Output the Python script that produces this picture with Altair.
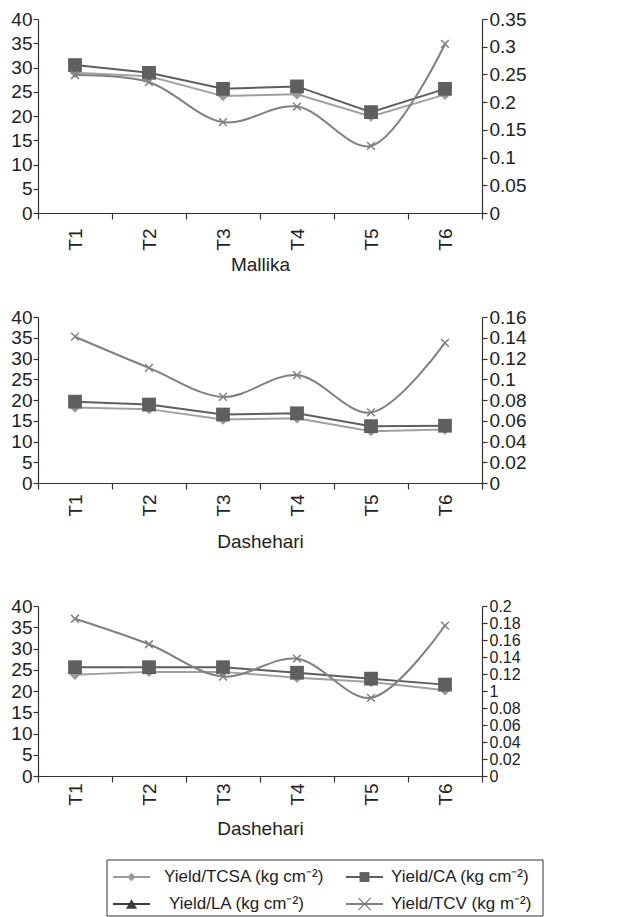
import altair as alt
import pandas as pd

FONT = "Liberation Sans, Arial, sans-serif"

cats = ["T1", "T2", "T3", "T4", "T5", "T6"]

# Panel 1 - Mallika
mallika_tcsa = [28.9, 28.2, 24.1, 24.5, 19.9, 24.4]
mallika_ca = [30.5, 28.9, 25.6, 26.1, 20.8, 25.6]
mallika_tcv = [0.249, 0.236, 0.164, 0.192, 0.121, 0.305]

# Panel 2 - Dashehari
dash1_tcsa = [18.2, 17.8, 15.3, 15.6, 12.5, 12.9]
dash1_ca = [19.6, 18.9, 16.5, 16.8, 13.7, 13.8]
dash1_tcv = [0.141, 0.111, 0.083, 0.104, 0.068, 0.135]

# Panel 3 - Dashehari
dash2_tcsa = [23.8, 24.5, 24.5, 23.1, 22.1, 20.2]
dash2_ca = [25.6, 25.6, 25.6, 24.3, 22.9, 21.5]
dash2_tcv = [0.185, 0.155, 0.117, 0.138, 0.092, 0.177]

legend_labels = ["Yield/TCSA (kg cm⁻²)", "Yield/CA (kg cm⁻²)",
                 "Yield/LA (kg cm⁻²)", "Yield/TCV (kg m⁻²)"]

C_TCSA = "#a0a0a0"
C_CA = "#5e5e5e"
C_LA = "#3c3c3c"
C_TCV = "#808080"
XPATH = "M-1,-1L1,1M-1,1L1,-1"
W = 444


def panel(tcsa, ca, tcv, rmax, rstep, title, h, label_pad, title_pad, rfs=19, right_expr=None):
    df = pd.DataFrame({"cat": cats, "tcsa": tcsa, "ca": ca, "tcv": tcv})
    xaxis = alt.Axis(title=title, labelAngle=270, tickBand="extent", tickSize=6,
                     labelPadding=label_pad, titlePadding=title_pad, grid=False)
    x = alt.X("cat:N", sort=cats, scale=alt.Scale(paddingInner=0, paddingOuter=0), axis=xaxis)
    yl_scale = alt.Scale(domain=[0, 40])
    yl_axis = alt.Axis(values=list(range(0, 41, 5)), title=None, grid=False, orient="left",
                       tickSize=5, labelPadding=1, labelOverlap=False)
    base = alt.Chart(df)
    tcsa_line = base.mark_line(color=C_TCSA, strokeWidth=2).encode(
        x=x, y=alt.Y("tcsa:Q", scale=yl_scale, axis=yl_axis))
    tcsa_pt = base.mark_point(shape="diamond", filled=True, color="#9a9a9a", size=110, opacity=1).encode(
        x=x, y=alt.Y("tcsa:Q", scale=yl_scale, axis=yl_axis))
    ca_line = base.mark_line(color=C_CA, strokeWidth=2).encode(
        x=x, y=alt.Y("ca:Q", scale=yl_scale, axis=yl_axis))
    ca_pt = base.mark_point(shape="square", filled=True, color="#5f5f5f", size=190, opacity=1).encode(
        x=x, y=alt.Y("ca:Q", scale=yl_scale, axis=yl_axis))
    left = alt.layer(tcsa_line, tcsa_pt, ca_line, ca_pt)

    n = int(round(rmax / rstep))
    rvals = [round(i * rstep, 4) for i in range(n + 1)]
    rkw = dict(values=rvals, orient="right", title=None, grid=False, tickSize=5, labelPadding=2,
               labelOverlap=False, labelFlush=False, labelFontSize=rfs)
    if right_expr:
        rkw["labelExpr"] = right_expr
    else:
        rkw["format"] = ".2~f"
    r_axis = alt.Axis(**rkw)
    r_scale = alt.Scale(domain=[0, rmax])
    tcv_line = base.mark_line(color=C_TCV, strokeWidth=2, interpolate="catmull-rom").encode(
        x=x, y=alt.Y("tcv:Q", scale=r_scale, axis=r_axis))
    tcv_pt = base.mark_point(shape=XPATH, filled=False, color=C_TCV, size=60, strokeWidth=1.5, opacity=1).encode(
        x=x, y=alt.Y("tcv:Q", scale=r_scale, axis=r_axis))
    right = alt.layer(tcv_line, tcv_pt)
    return alt.layer(left, right).resolve_scale(y="independent").properties(width=W, height=h)


p1 = panel(mallika_tcsa, mallika_ca, mallika_tcv, 0.35, 0.05, "Mallika", 194, 9, 5)
p2 = panel(dash1_tcsa, dash1_ca, dash1_tcv, 0.16, 0.02, "Dashehari", 166, 5, 16)
p3 = panel(dash2_tcsa, dash2_ca, dash2_tcv, 0.2, 0.02, "Dashehari", 170, 1, 14, rfs=16,
           right_expr="abs(datum.value - 0.1) < 1e-9 ? '1' : format(datum.value, '.2~f')")

# Legend
LH = 56
leg_df = pd.DataFrame({
    "label": legend_labels,
    "col": [0, 1, 0, 1],
    "row": [0, 0, 1, 1],
})
shape_scale = alt.Scale(domain=legend_labels, range=["diamond", "square", "triangle-up", XPATH])
color_scale = alt.Scale(domain=legend_labels, range=["#9a9a9a", "#5f5f5f", C_LA, C_TCV])
size_scale = alt.Scale(domain=legend_labels, range=[70, 150, 110, 90])
lx = alt.Scale(domain=[0, W], range=[0, W])
ly = alt.Scale(domain=[0, LH], range=[0, LH])
leg_base = alt.Chart(leg_df).transform_calculate(
    x0="75 + datum.col * 233",
    x1="112 + datum.col * 233",
    xm="93.5 + datum.col * 233",
    xt="126 + datum.col * 227 + (datum.col == 0 && datum.row == 1 ? 5 : 0)",
    yy="17 + datum.row * 27",
)
leg_lines = leg_base.mark_rule(strokeWidth=2).encode(
    x=alt.X("x0:Q", scale=lx, axis=None),
    x2="x1:Q",
    y=alt.Y("yy:Q", scale=ly, axis=None),
    color=alt.Color("label:N", scale=color_scale, legend=None),
)
leg_filled = leg_base.transform_filter("datum.col == 0 || datum.row == 0").mark_point(
    filled=True, opacity=1).encode(
    x=alt.X("xm:Q", scale=lx, axis=None),
    y=alt.Y("yy:Q", scale=ly, axis=None),
    shape=alt.Shape("label:N", scale=shape_scale, legend=None),
    color=alt.Color("label:N", scale=color_scale, legend=None),
    size=alt.Size("label:N", scale=size_scale, legend=None),
)
leg_x = leg_base.transform_filter("datum.col == 1 && datum.row == 1").mark_point(
    filled=False, opacity=1, strokeWidth=1.3).encode(
    x=alt.X("xm:Q", scale=lx, axis=None),
    y=alt.Y("yy:Q", scale=ly, axis=None),
    shape=alt.Shape("label:N", scale=shape_scale, legend=None),
    color=alt.Color("label:N", scale=color_scale, legend=None),
    size=alt.Size("label:N", scale=size_scale, legend=None),
)
leg_text = leg_base.mark_text(align="left", baseline="middle", font=FONT, fontSize=17, color="#222").encode(
    x=alt.X("xt:Q", scale=lx, axis=None),
    y=alt.Y("yy:Q", scale=ly, axis=None),
    text="label:N",
)
leg_box = alt.Chart(pd.DataFrame({"a": [0]})).mark_rect(fillOpacity=0, stroke="#333", strokeWidth=1).encode(
    x=alt.value(69), x2=alt.value(505), y=alt.value(0), y2=alt.value(LH),
)
legend = alt.layer(leg_box, leg_lines, leg_filled, leg_x, leg_text).properties(width=W, height=LH)

top = alt.vconcat(p1, p2, spacing=33)
mid = alt.vconcat(top, p3, spacing=45)
chart = alt.vconcat(mid, legend, spacing=20).properties(
    padding={"left": 2, "top": 2, "right": 5, "bottom": 0}
).configure_view(stroke=None).configure_axis(
    labelFont=FONT, titleFont=FONT, labelFontSize=19, titleFontSize=19,
    titleFontWeight="normal", domainColor="#333", tickColor="#333",
    labelColor="#222", titleColor="#222", domainWidth=1.2, tickWidth=1.2,
)

chart.save("out.html", embed_options={"renderer": "svg", "actions": False})
